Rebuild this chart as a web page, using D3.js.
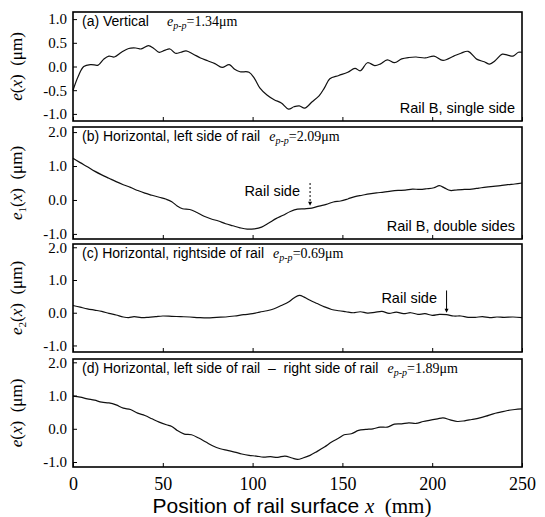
<!DOCTYPE html>
<html>
<head>
<meta charset="utf-8">
<script src="https://cdn.jsdelivr.net/npm/d3@7"></script>
<style>
  body { margin: 0; background: #fff; }
  .sans { font-family: "Liberation Sans", Arial, sans-serif; }
  .serif { font-family: "Liberation Serif", "Times New Roman", serif; }
</style>
</head>
<body>
<div id="graph"></div>
<script>
// panel (a) vertical, single side
const xa = [0, 3, 6, 10, 14, 17, 20, 23, 27, 31, 35, 38, 42, 45, 48, 51, 54, 57, 60, 63, 67, 71, 75, 79, 83, 87, 90, 93, 98, 101, 104, 108, 112, 116, 120, 123, 126, 129, 133, 137, 140, 143, 148, 153, 157, 160, 164, 168, 171, 175, 179, 183, 187, 191, 196, 201, 206, 212, 216, 220, 225, 229, 232, 235, 239, 242, 245, 248, 250];
const ya = [-0.5, -0.2, 0.0, 0.04, 0.03, 0.15, 0.22, 0.2, 0.3, 0.38, 0.39, 0.37, 0.44, 0.38, 0.3, 0.34, 0.37, 0.28, 0.3, 0.33, 0.26, 0.18, 0.12, 0.06, -0.02, 0.04, -0.06, -0.11, -0.12, -0.25, -0.45, -0.6, -0.7, -0.77, -0.9, -0.85, -0.83, -0.88, -0.75, -0.62, -0.45, -0.26, -0.19, -0.12, -0.04, -0.09, 0.08, 0.02, 0.05, 0.14, 0.08, 0.16, 0.19, 0.2, 0.18, 0.22, 0.13, 0.22, 0.28, 0.32, 0.15, 0.1, 0.05, 0.12, 0.26, 0.24, 0.22, 0.3, 0.3];

// panel (b) horizontal, left side
const xb = [0, 4, 8, 12, 16, 20, 24, 28, 32, 36, 40, 44, 48, 52, 55, 58, 61, 65, 69, 73, 77, 81, 85, 89, 93, 97, 101, 105, 109, 113, 117, 121, 125, 129, 133, 137, 141, 145, 149, 153, 157, 161, 165, 169, 173, 177, 181, 185, 189, 193, 197, 201, 204, 207, 210, 214, 218, 222, 226, 230, 234, 238, 242, 246, 250];
const yb = [1.23, 1.1, 0.98, 0.85, 0.74, 0.64, 0.54, 0.45, 0.37, 0.28, 0.2, 0.14, 0.08, 0.02, -0.05, -0.18, -0.26, -0.28, -0.37, -0.48, -0.56, -0.62, -0.7, -0.76, -0.82, -0.86, -0.85, -0.8, -0.68, -0.55, -0.45, -0.34, -0.27, -0.26, -0.24, -0.18, -0.13, -0.06, -0.03, 0.03, 0.1, 0.14, 0.18, 0.21, 0.23, 0.26, 0.28, 0.29, 0.32, 0.31, 0.33, 0.36, 0.42, 0.35, 0.28, 0.3, 0.31, 0.32, 0.35, 0.38, 0.4, 0.42, 0.45, 0.47, 0.5];

// panel (c) horizontal, right side
const xc = [0, 4, 8, 12, 16, 20, 24, 28, 31, 34, 38, 42, 46, 50, 55, 60, 65, 70, 75, 80, 85, 90, 95, 100, 104, 108, 112, 116, 120, 123, 126, 129, 132, 136, 140, 144, 148, 152, 156, 160, 164, 168, 172, 176, 180, 184, 188, 192, 196, 200, 204, 208, 212, 216, 220, 224, 228, 232, 236, 240, 245, 250];
const yc = [0.22, 0.17, 0.12, 0.08, 0.04, -0.02, -0.07, -0.13, -0.15, -0.12, -0.15, -0.14, -0.12, -0.1, -0.11, -0.12, -0.13, -0.15, -0.16, -0.14, -0.13, -0.1, -0.06, -0.03, 0.02, 0.06, 0.12, 0.22, 0.33, 0.45, 0.53, 0.47, 0.38, 0.28, 0.18, 0.1, 0.06, 0.03, 0.0, 0.03, -0.01, 0.01, 0.04, -0.02, 0.02, -0.03, 0.0, -0.05, -0.03, -0.08, -0.05, -0.06, -0.1, -0.1, -0.14, -0.14, -0.12, -0.15, -0.13, -0.14, -0.13, -0.15];

// panel (d) left minus right
const xd = [0, 4, 8, 12, 16, 20, 24, 28, 32, 36, 40, 44, 48, 52, 55, 58, 62, 66, 70, 74, 78, 82, 86, 90, 94, 98, 102, 106, 110, 114, 118, 122, 125, 128, 132, 136, 140, 144, 148, 151, 155, 159, 163, 167, 171, 175, 179, 183, 187, 191, 195, 199, 203, 206, 210, 214, 218, 222, 226, 230, 234, 238, 242, 246, 250];
const yd = [0.98, 0.95, 0.9, 0.86, 0.8, 0.78, 0.72, 0.62, 0.58, 0.47, 0.4, 0.3, 0.2, 0.12, 0.07, -0.05, -0.16, -0.18, -0.28, -0.4, -0.52, -0.6, -0.65, -0.7, -0.76, -0.8, -0.82, -0.85, -0.84, -0.86, -0.82, -0.88, -0.92, -0.88, -0.8, -0.68, -0.55, -0.4, -0.28, -0.18, -0.15, -0.05, -0.02, 0.0, 0.05, 0.05, 0.14, 0.15, 0.18, 0.16, 0.22, 0.26, 0.3, 0.33, 0.27, 0.22, 0.24, 0.28, 0.32, 0.38, 0.45, 0.5, 0.55, 0.58, 0.6];

const xTicks = [0, 50, 100, 150, 200, 250];
const yTicksA = [1.0, 0.5, 0.0, -0.5, -1.0];
const yTicksB = [2.0, 1.0, 0.0, -1.0];

const width = 545, height = 517;
const svg = d3.select("#graph").append("svg")
  .attr("width", width).attr("height", height);

const x = d3.scaleLinear().domain([0, 250]).range([73, 522]);

const panels = [
  {xs: xa, ys: ya, top: 12, bottom: 121, domain: [-1.15, 1.15], ticks: yTicksA,
   title: "(a) Vertical", pp: "1.34", gap: 18, sub: null},
  {xs: xb, ys: yb, top: 127, bottom: 239, domain: [-1.15, 2.15], ticks: yTicksB,
   title: "(b) Horizontal, left side of rail", pp: "2.09", gap: 9, sub: "1"},
  {xs: xc, ys: yc, top: 244, bottom: 352, domain: [-1.2, 2.1], ticks: yTicksB,
   title: "(c) Horizontal, rightside of rail", pp: "0.69", gap: 9, sub: "2"},
  {xs: xd, ys: yd, top: 359, bottom: 467, domain: [-1.15, 2.1], ticks: yTicksB,
   title: "(d) Horizontal, left side of rail \u00a0\u2013\u00a0 right side of rail", pp: "1.89", gap: 9, sub: null}
];

panels.forEach(function(p, i) {
  const y = d3.scaleLinear().domain(p.domain).range([p.bottom, p.top]);
  p.y = y;
  const g = svg.append("g");

  // curve
  const pts = p.xs.map((v, k) => [v, p.ys[k]]);
  g.append("path")
    .datum(pts)
    .attr("fill", "none")
    .attr("stroke", "#111")
    .attr("stroke-width", 1.2)
    .attr("d", d3.line().x(d => x(d[0])).y(d => y(d[1])).curve(d3.curveCatmullRom));

  // y axis (ticks inward)
  const yAxis = d3.axisLeft(y).tickValues(p.ticks).tickSize(-4).tickPadding(6)
    .tickFormat(d => d.toFixed(1));
  const ya_g = g.append("g").attr("transform", `translate(${x(0)},0)`).call(yAxis);
  ya_g.select(".domain").remove();
  ya_g.selectAll("text").attr("class", "serif").style("font-size", "15px").attr("fill", "#000");

  // x ticks at bottom (inward)
  const xAxis = d3.axisBottom(x).tickValues(xTicks).tickSize(-4)
    .tickFormat(i === panels.length - 1 ? d3.format("d") : "");
  const xa_g = g.append("g").attr("transform", `translate(0,${p.bottom})`).call(xAxis);
  xa_g.select(".domain").remove();
  xa_g.selectAll("text").attr("class", "serif").style("font-size", "18px")
    .attr("fill", "#000").attr("dy", "1.1em");

  // frame
  g.append("rect")
    .attr("x", x(0)).attr("y", p.top)
    .attr("width", x(250) - x(0)).attr("height", p.bottom - p.top)
    .attr("fill", "none").attr("stroke", "#000").attr("stroke-width", 1.6);

  // panel title, then the peak-to-peak value just after it
  const t = g.append("text").attr("class", "sans")
    .attr("x", 82).attr("y", p.top + 14)
    .style("font-size", "14px")
    .text(p.title);
  const tEnd = 82 + t.node().getComputedTextLength();
  const pp = g.append("text").attr("class", "serif")
    .attr("x", tEnd + p.gap).attr("y", p.top + 14)
    .style("font-size", "14px");
  pp.append("tspan").style("font-style", "italic").text("e");
  pp.append("tspan").style("font-style", "italic").style("font-size", "10px")
    .attr("dy", 3).text("p-p");
  pp.append("tspan").attr("dy", -3).text("=" + p.pp + "\u03bcm");

  // y label
  const lab = g.append("text").attr("class", "serif")
    .attr("transform", `translate(22,${(p.top + p.bottom) / 2}) rotate(-90)`)
    .attr("text-anchor", "middle")
    .style("font-size", "17px");
  lab.append("tspan").style("font-style", "italic").text("e");
  if (p.sub) {
    lab.append("tspan").style("font-size", "11px").attr("dy", 4).text(p.sub);
    lab.append("tspan").attr("dy", -4).text("(");
  } else {
    lab.append("tspan").text("(");
  }
  lab.append("tspan").style("font-style", "italic").text("x");
  lab.append("tspan").text(")\u00a0\u00a0(\u03bcm)");
});

// annotations
svg.append("text").attr("class", "sans")
  .attr("x", 515).attr("y", panels[0].bottom - 8)
  .attr("text-anchor", "end").style("font-size", "14.5px")
  .text("Rail B, single side");
svg.append("text").attr("class", "sans")
  .attr("x", 515).attr("y", panels[1].bottom - 8)
  .attr("text-anchor", "end").style("font-size", "14.5px")
  .text("Rail B, double sides");

// rail side marker (b), dashed arrow
const yB = panels[1].y;
svg.append("text").attr("class", "sans")
  .attr("x", 300).attr("y", yB(0.12))
  .attr("text-anchor", "end").style("font-size", "14.5px")
  .text("Rail side");
svg.append("line")
  .attr("x1", x(132)).attr("x2", x(132))
  .attr("y1", yB(0.5)).attr("y2", yB(-0.12))
  .attr("stroke", "#000").attr("stroke-width", 1)
  .attr("stroke-dasharray", "2,2");
svg.append("path")
  .attr("d", `M${x(132) - 2},${yB(-0.05)} L${x(132) + 2},${yB(-0.05)} L${x(132)},${yB(-0.17)} Z`)
  .attr("fill", "#000");

// rail side marker (c), solid arrow
const yC = panels[2].y;
svg.append("text").attr("class", "sans")
  .attr("x", 437).attr("y", yC(0.3))
  .attr("text-anchor", "end").style("font-size", "14.5px")
  .text("Rail side");
svg.append("line")
  .attr("x1", x(208)).attr("x2", x(208))
  .attr("y1", yC(0.68)).attr("y2", yC(0.05))
  .attr("stroke", "#000").attr("stroke-width", 1);
svg.append("path")
  .attr("d", `M${x(208) - 2},${yC(0.12)} L${x(208) + 2},${yC(0.12)} L${x(208)},${yC(0.0)} Z`)
  .attr("fill", "#000");

// x axis title
const xt = svg.append("text").attr("class", "sans")
  .attr("x", 292).attr("y", 513)
  .attr("text-anchor", "middle").style("font-size", "21px");
xt.append("tspan").text("Position of rail surface ");
xt.append("tspan").attr("class", "serif").style("font-style", "italic").text("x");
xt.append("tspan").attr("class", "serif").text("\u00a0\u00a0(mm)");
</script>
</body>
</html>
